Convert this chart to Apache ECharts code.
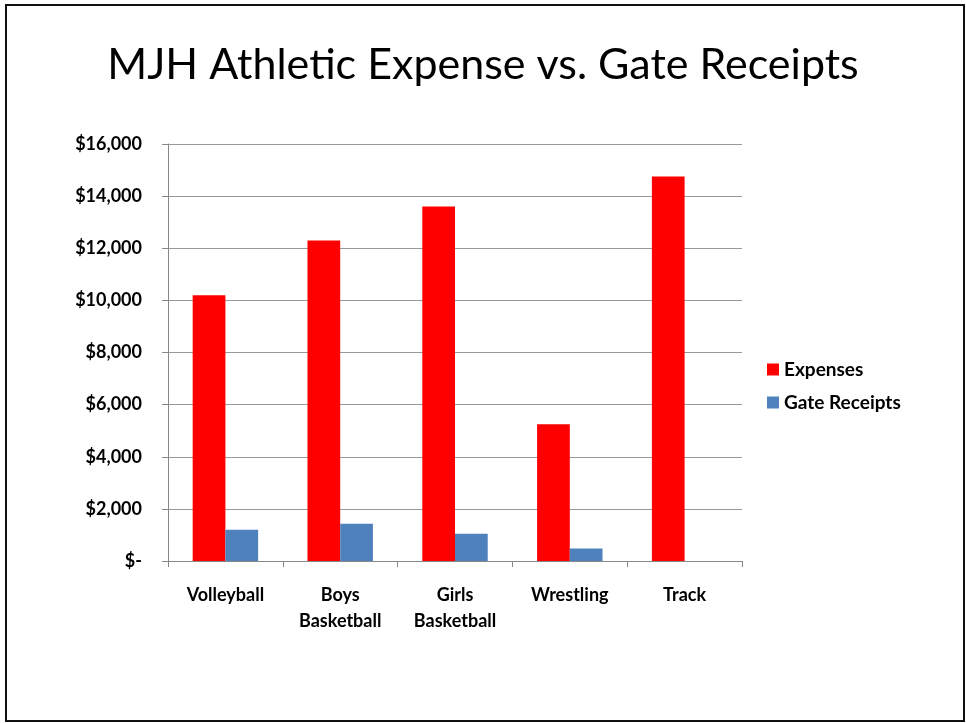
<!DOCTYPE html>
<html>
<head>
<meta charset="utf-8">
<script src="https://cdn.jsdelivr.net/npm/echarts@6/dist/echarts.min.js"></script>
<style>
    html, body { margin: 0; padding: 0; background: #fff; }
    #frame {
        position: absolute; left: 5px; top: 4px; width: 956px; height: 714px;
        border: 2px solid #111; box-sizing: content-box;
    }
    #chart { position: absolute; left: 0; top: 0; width: 966px; height: 723px; }
</style>
</head>
<body>
<div id="frame"></div>
<div id="chart"></div>
<script>
    const categories = ['Volleyball', 'Boys\nBasketball', 'Girls\nBasketball', 'Wrestling', 'Track'];
    const expenses = [10200, 12300, 13600, 5250, 14750];
    const gateReceipts = [1200, 1430, 1050, 475, 0];
    const yTicks = [0, 2000, 4000, 6000, 8000, 10000, 12000, 14000, 16000];

    const font = 'Lato, "Open Sans", sans-serif';
    const myChart = echarts.init(document.getElementById('chart'));

    const option = {
        animation: false,
        title: {
            text: 'MJH Athletic Expense vs. Gate Receipts',
            left: 'center',
            top: 39,
            textStyle: { fontFamily: font, fontSize: 43, fontWeight: 'normal', color: '#000' }
        },
        legend: {
            orient: 'vertical',
            left: 762,
            top: 355,
            itemWidth: 12,
            itemHeight: 12,
            itemGap: 14,
            icon: 'rect',
            textStyle: { fontFamily: font, fontSize: 19, fontWeight: 'bold', color: '#000' },
            data: ['Expenses', 'Gate Receipts']
        },
        grid: { left: 168, right: 224, top: 144, bottom: 162, containLabel: false },
        xAxis: {
            type: 'category',
            data: categories,
            axisLine: { lineStyle: { color: '#888', width: 1 } },
            axisTick: { show: true, length: 6, lineStyle: { color: '#888' } },
            axisLabel: {
                margin: 21,
                fontFamily: font, fontSize: 18, fontWeight: 'bold', color: '#000',
                lineHeight: 26
            }
        },
        yAxis: {
            type: 'value',
            min: yTicks[0],
            max: yTicks[yTicks.length - 1],
            interval: 2000,
            axisLine: { show: true, lineStyle: { color: '#888', width: 1 } },
            axisTick: { show: true, length: 6, inside: false, lineStyle: { color: '#888' } },
            splitLine: { lineStyle: { color: '#999', width: 1 } },
            axisLabel: {
                margin: 26,
                fontFamily: font, fontSize: 18, fontWeight: 'bold', color: '#000',
                formatter: function (v) {
                    if (v === 0) return '$-';
                    return '$' + v.toLocaleString('en-US');
                }
            }
        },
        series: [
            {
                name: 'Expenses',
                type: 'bar',
                data: expenses,
                barGap: '0%',
                barCategoryGap: '43%',
                itemStyle: { color: '#FF0000' }
            },
            {
                name: 'Gate Receipts',
                type: 'bar',
                data: gateReceipts,
                barGap: '0%',
                barCategoryGap: '43%',
                itemStyle: { color: '#4F81BD' }
            }
        ]
    };
    myChart.setOption(option);
</script>
</body>
</html>
